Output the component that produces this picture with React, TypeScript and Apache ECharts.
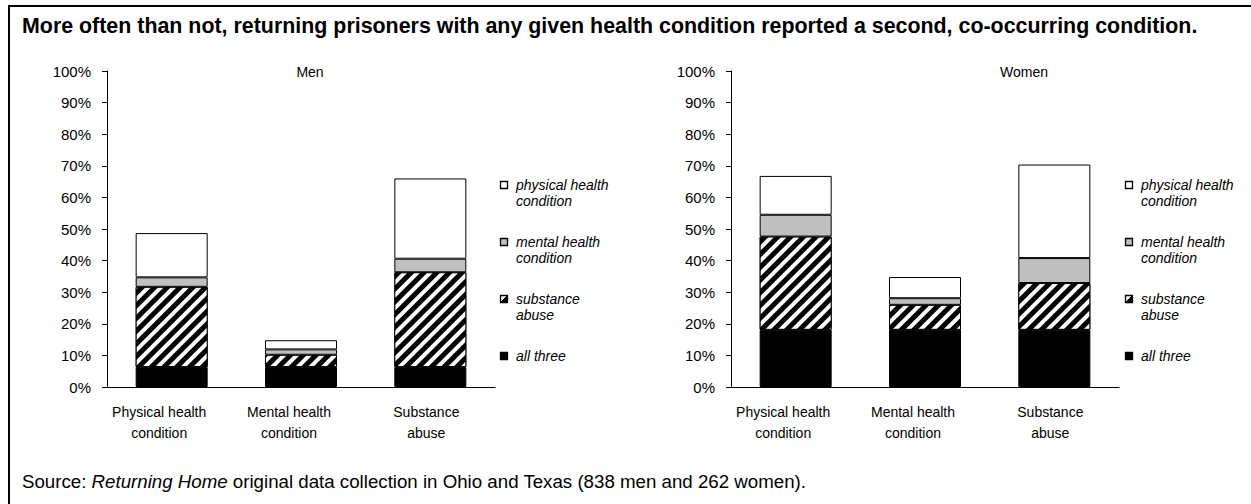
import React, { useEffect, useRef } from "react";
import * as echarts from "echarts";

const categories = ["Physical health\ncondition", "Mental health\ncondition", "Substance\nabuse"];
const seriesNames = ["all three", "substance abuse", "mental health condition", "physical health condition"];
const legendLabels = ["physical health\ncondition", "mental health\ncondition", "substance\nabuse", "all three"];
const panelTitles = ["Men", "Women"];

const menAllThree = [6.3, 6.3, 6.3];
const menSubstance = [25.4, 3.9, 30.0];
const menMental = [3.0, 1.7, 4.3];
const menPhysical = [14.0, 2.9, 25.4];

const womenAllThree = [18.1, 18.1, 18.1];
const womenSubstance = [29.5, 7.9, 14.8];
const womenMental = [6.9, 2.1, 7.9];
const womenPhysical = [12.3, 6.7, 29.6];

const yMin = 0;
const yMax = 100;
const yInterval = 10;

const titleText =
  "More often than not, returning prisoners with any given health condition reported a second, co-occurring condition.";

const FONT = "'Liberation Sans', Arial, sans-serif";

const hatchDecal = {
  symbol: "rect",
  symbolSize: 1,
  color: "#ffffff",
  backgroundColor: "#000000",
  dashArrayX: [1, 0],
  dashArrayY: [3.8, 4.7],
  rotation: -Math.PI / 4,
};

const segStyles = [
  { color: "#000000", borderColor: "#000000", borderWidth: 1 },
  { color: "#000000", borderColor: "#000000", borderWidth: 1, decal: hatchDecal },
  { color: "#c0c0c0", borderColor: "#000000", borderWidth: 1 },
  { color: "#ffffff", borderColor: "#000000", borderWidth: 1 },
];

const legendIconFills: any[] = [
  "#ffffff",
  "#c0c0c0",
  new echarts.graphic.LinearGradient(0, 0, 1, 1, [
    { offset: 0, color: "#fff" },
    { offset: 0.45, color: "#fff" },
    { offset: 0.45, color: "#000" },
    { offset: 1, color: "#000" },
  ]),
  "#000000",
];

// horizontal nudge (px) of each category label, as in the reference layout
const labelShift = [25, 24, 8];

export default function App() {
  const ref = useRef<HTMLDivElement>(null);

  useEffect(() => {
    if (!ref.current) return;
    const chart = echarts.init(ref.current, null, { renderer: "svg" });

    const grids = [
      { left: 107, top: 71, width: 388, height: 316 },
      { left: 731, top: 71, width: 388, height: 316 },
    ];

    const data = [
      [menAllThree, menSubstance, menMental, menPhysical],
      [womenAllThree, womenSubstance, womenMental, womenPhysical],
    ];

    const series: any[] = [];
    data.forEach((panel, pi) => {
      panel.forEach((vals, si) => {
        series.push({
          type: "bar",
          name: seriesNames[si],
          stack: "s" + pi,
          xAxisIndex: pi,
          yAxisIndex: pi,
          barWidth: 72,
          data: vals,
          itemStyle: segStyles[si],
          emphasis: { disabled: true },
        });
      });
    });

    const catData = categories.map((c, i) => ({
      value: c,
      textStyle: { padding: [0, labelShift[i], 0, 0] },
    }));

    const xAxes = grids.map((_, i) => ({
      type: "category",
      gridIndex: i,
      data: catData,
      axisLine: { lineStyle: { color: "#000", width: 1 } },
      axisTick: { length: 5, lineStyle: { color: "#000" } },
      axisLabel: {
        color: "#000",
        fontFamily: FONT,
        fontSize: 14,
        lineHeight: 21,
        margin: 14,
        interval: 0,
      },
    }));

    const yAxes = grids.map((_, i) => ({
      type: "value",
      gridIndex: i,
      min: yMin,
      max: yMax,
      interval: yInterval,
      axisLine: { show: true, lineStyle: { color: "#000", width: 1 } },
      axisTick: { show: true, length: 5, lineStyle: { color: "#000" } },
      splitLine: { show: false },
      axisLabel: {
        color: "#000",
        fontFamily: FONT,
        fontSize: 15,
        margin: 16,
        formatter: "{value}%",
      },
    }));

    const graphic: any[] = [
      {
        type: "rect",
        shape: { x: 9, y: 6, width: 1400, height: 700 },
        style: { fill: "none", stroke: "#000", lineWidth: 2 },
        silent: true,
      },
      {
        type: "text",
        x: 22,
        y: 26,
        style: {
          text: titleText,
          font: "bold 21.4px " + FONT,
          fill: "#000",
          verticalAlign: "middle",
          align: "left",
        },
      },
      {
        type: "text",
        x: 22,
        y: 481,
        style: {
          text: "{n|Source: }{i|Returning Home}{n| original data collection in Ohio and Texas (838 men and 262 women).}",
          verticalAlign: "middle",
          align: "left",
          rich: {
            n: { fontFamily: FONT, fontSize: 18.7, fill: "#000", fontStyle: "normal" },
            i: { fontFamily: FONT, fontSize: 18.7, fill: "#000", fontStyle: "italic" },
          },
        },
      },
    ];

    const titleX = [310, 1024];
    panelTitles.forEach((t, i) => {
      graphic.push({
        type: "text",
        x: titleX[i],
        y: 72,
        style: {
          text: t,
          font: "14px " + FONT,
          fill: "#000",
          align: "center",
          verticalAlign: "middle",
        },
      });
    });

    const legendX = [500, 1125];
    const legendY = [185, 242, 299, 356];
    legendX.forEach((lx) => {
      legendLabels.forEach((lab, k) => {
        graphic.push({
          type: "rect",
          shape: { x: lx + 0.5, y: legendY[k] - 3.5, width: 7, height: 7 },
          style: { fill: legendIconFills[k], stroke: "#000", lineWidth: 1.3 },
        });
        graphic.push({
          type: "text",
          x: lx + 16,
          y: legendY[k] - 8.5,
          style: {
            text: lab,
            font: "italic 14px " + FONT,
            fill: "#000",
            align: "left",
            verticalAlign: "top",
            lineHeight: 16,
          },
        });
      });
    });

    chart.setOption({
      animation: false,
      backgroundColor: "#ffffff",
      grid: grids,
      xAxis: xAxes,
      yAxis: yAxes,
      series,
      graphic,
    });

    return () => chart.dispose();
  }, []);

  return (
    <div
      ref={ref}
      style={{ position: "absolute", left: 0, top: 0, width: 1251, height: 504 }}
    />
  );
}
